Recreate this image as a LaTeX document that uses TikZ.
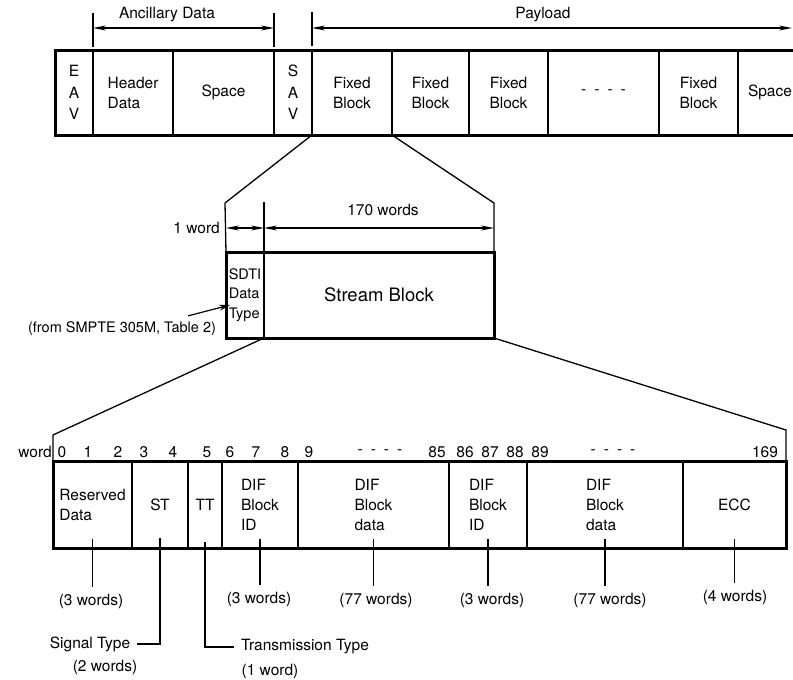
\documentclass[tikz,border=0pt]{standalone}
\usepackage{fontspec}
\setmainfont{TeX Gyre Heros}
\usetikzlibrary{arrows.meta,positioning,calc}
\newcommand{\cellfont}{\fontsize{15.5}{20}\selectfont}
\newcommand{\sdtifont}{\fontsize{14.5}{19.5}\selectfont}
\newcommand{\streamfont}{\fontsize{18.5}{22}\selectfont}
\newcommand{\fourdash}{-\hspace{8pt}-\hspace{8pt}-\hspace{8pt}-}
\tikzset{
  cellbox/.style={draw,line width=1.2pt,inner sep=1pt,outer sep=0pt,font=\cellfont,align=center},
  toprow/.style={cellbox,minimum height=85pt},
  midrow/.style={cellbox,minimum height=86pt},
  lowrow/.style={cellbox,minimum height=87pt},
  frame/.style={line width=3pt},
  txt/.style={inner sep=0pt,font=\cellfont},
  lbl/.style={txt,outer sep=7pt},
  tick/.style={line width=1.3pt},
  fan/.style={line width=1.3pt},
  lead/.style={line width=1.2pt},
  dim/.style={<->,>={Stealth[length=13pt,width=5pt]},line width=1.2pt},
  ptr/.style={->,>={Stealth[length=11pt,width=6pt]},line width=1.2pt},
}
\begin{document}
\begin{tikzpicture}[x=1pt,y=-1pt]
  \useasboundingbox (0,0) rectangle (793,680);
  % frame row
  \node[toprow,minimum width=38pt,anchor=north west] (eav) at (55,50) {E\\[1.5pt]A\\[1.5pt]V};
  \node[toprow,minimum width=80pt,right=0pt of eav,align=left] (hdr) {Header\\Data};
  \node[toprow,minimum width=101pt,right=0pt of hdr] (sp1) {Space};
  \node[toprow,minimum width=38pt,right=0pt of sp1] (sav) {S\\[1.5pt]A\\[1.5pt]V};
  \node[toprow,minimum width=80pt,right=0pt of sav] (fb1) {Fixed\\Block};
  \node[toprow,minimum width=77pt,right=0pt of fb1] (fb2) {Fixed\\Block};
  \node[toprow,minimum width=79pt,right=0pt of fb2] (fb3) {Fixed\\Block};
  \node[toprow,minimum width=111pt,right=0pt of fb3] (dots) {\fourdash};
  \node[toprow,minimum width=79pt,right=0pt of dots] (fb4) {Fixed\\Block};
  \node[toprow,minimum width=64pt,right=0pt of fb4] (sp2) {Space};
  \draw[frame] (eav.north west) rectangle (sp2.south east);

  % ancillary / payload spans
  \coordinate (tA) at (93,13);
  \coordinate (tB) at (274,13);
  \coordinate (tC) at (312,12);
  \coordinate (payR) at (792,28);
  \draw[tick] ([yshift=3pt]hdr.north west) -- (tA);
  \draw[tick] ([yshift=3pt]sav.north west) -- (tB);
  \draw[tick] ([yshift=4pt]fb1.north west) -- (tC);
  \draw[dim] ($(tA)+(0,15)$) -- ($(tB)+(0,15)$);
  \draw[dim] ($(tC)+(0,16)$) -- (payR);
  \node[txt] (anc) at (167,15) {Ancillary Data};
  \node[txt] (pay) at (543,15) {Payload};

  % fixed block
  \node[midrow,minimum width=38pt,anchor=north west,font=\sdtifont,align=left,inner sep=0pt] (sdti) at (226,252) {SDTI\\Data\\Type};
  \node[midrow,minimum width=230pt,right=0pt of sdti,font=\streamfont] (stream) {Stream Block};
  \draw[frame] (sdti.north west) rectangle (stream.south east);
  \coordinate (fanL) at (225,203);
  \coordinate (fanR) at (494,203);
  \draw[fan] (sav.south east) -- (fanL) -- (sdti.north west);
  \draw[fan] (fb1.south east) -- (fanR) -- (stream.north east);
  \draw[tick] (stream.north west) -- ++(0,-50);
  \draw[dim] ($(sdti.north west)+(0,-24)$) -- ($(stream.north west)+(0,-24)$);
  \draw[dim] ($(stream.north west)+(0,-24)$) -- ($(stream.north east)+(0,-24)$);
  \node[txt,anchor=east] (oneword) at (220,228) {1 word};
  \node[txt] (n170) at (383,210) {170 words};
  \node[txt,font=\sdtifont] (smpte) at (122,329) {(from SMPTE 305M, Table 2)};
  \draw[ptr] ($(smpte.north east)+(-28,-6)$) -- ($(sdti.west)+(4,10)$);

  % stream block
  \node[lowrow,minimum width=79pt,anchor=north west,align=left] (res) at (53,461) {Reserved\\Data};
  \node[lowrow,minimum width=56pt,right=0pt of res] (st) {ST};
  \node[lowrow,minimum width=34pt,right=0pt of st] (tt) {TT};
  \node[lowrow,minimum width=76pt,right=0pt of tt,align=left] (id1) {DIF\\Block\\ID};
  \node[lowrow,minimum width=151pt,right=0pt of id1,align=left] (dat1) {DIF\\Block\\data};
  \node[lowrow,minimum width=78pt,right=0pt of dat1,align=left] (id2) {DIF\\Block\\ID};
  \node[lowrow,minimum width=156pt,right=0pt of id2,align=left] (dat2) {DIF\\Block\\data};
  \node[lowrow,minimum width=103pt,right=0pt of dat2] (ecc) {ECC};
  \draw[frame] (res.north west) rectangle (ecc.south east);
  \coordinate (fanLL) at (53,435);
  \coordinate (fanLR) at (786,430);
  \draw[fan] (sdti.south east) -- (fanLL) -- (res.north west);
  \draw[fan] (stream.south east) -- (fanLR) -- (ecc.north east);

  % word numbers
  \node[txt,anchor=east] (wordlbl) at (52,452) {word};
  \node[txt] (w0) at (62,452) {0};   \node[txt] (w1) at (88,452) {1};
  \node[txt] (w2) at (118,452) {2};  \node[txt] (w3) at (144,452) {3};
  \node[txt] (w4) at (173,452) {4};  \node[txt] (w5) at (207,452) {5};
  \node[txt] (w6) at (230,452) {6};  \node[txt] (w7) at (256,452) {7};
  \node[txt] (w8) at (285,452) {8};  \node[txt] (w9) at (309,452) {9};
  \node[txt] (wd1) at (380,452) {\fourdash};
  \node[txt] (w85) at (437,452) {85}; \node[txt] (w86) at (465,452) {86};
  \node[txt] (w87) at (490,452) {87}; \node[txt] (w88) at (515,452) {88};
  \node[txt] (w89) at (540,452) {89};
  \node[txt] (wd2) at (613,452) {\fourdash};
  \node[txt] (w169) at (765,452) {169};

  % sizes below
  \node[lbl] (resw) at (91,601) {(3 words)};
  \node[lbl] (id1w) at (259,599) {(3 words)};
  \node[lbl] (dat1w) at (376,600) {(77 words)};
  \node[lbl] (id2w) at (492,600) {(3 words)};
  \node[lbl] (dat2w) at (610,600) {(77 words)};
  \node[lbl] (eccw) at (735,597) {(4 words)};
  \draw[lead] ($(res.south)+(0,-9)$) -- (res.south |- resw.north);
  \draw[lead] ($(id1.south)+(0,-9)$) -- (id1.south |- id1w.north);
  \draw[lead] ($(dat1.south)+(0,-9)$) -- (dat1.south |- dat1w.north);
  \draw[lead] ($(id2.south)+(0,-9)$) -- (id2.south |- id2w.north);
  \draw[lead] ($(dat2.south)+(0,-9)$) -- (dat2.south |- dat2w.north);
  \draw[lead] ($(ecc.south)+(0,-9)$) -- (ecc.south |- eccw.north);
  \node[lbl] (sig) at (90,644) {Signal Type};
  \node[txt] (sigw) at (105,667) {(2 words)};
  \node[lbl] (trans) at (305,647) {Transmission Type};
  \node[txt] (transw) at (270,671) {(1 word)};
  \draw[lead] ($(st.south)+(0,-10)$) |- (sig.east);
  \draw[lead] ($(tt.south)+(0,-6)$) |- (trans.west);
\end{tikzpicture}
\end{document}
